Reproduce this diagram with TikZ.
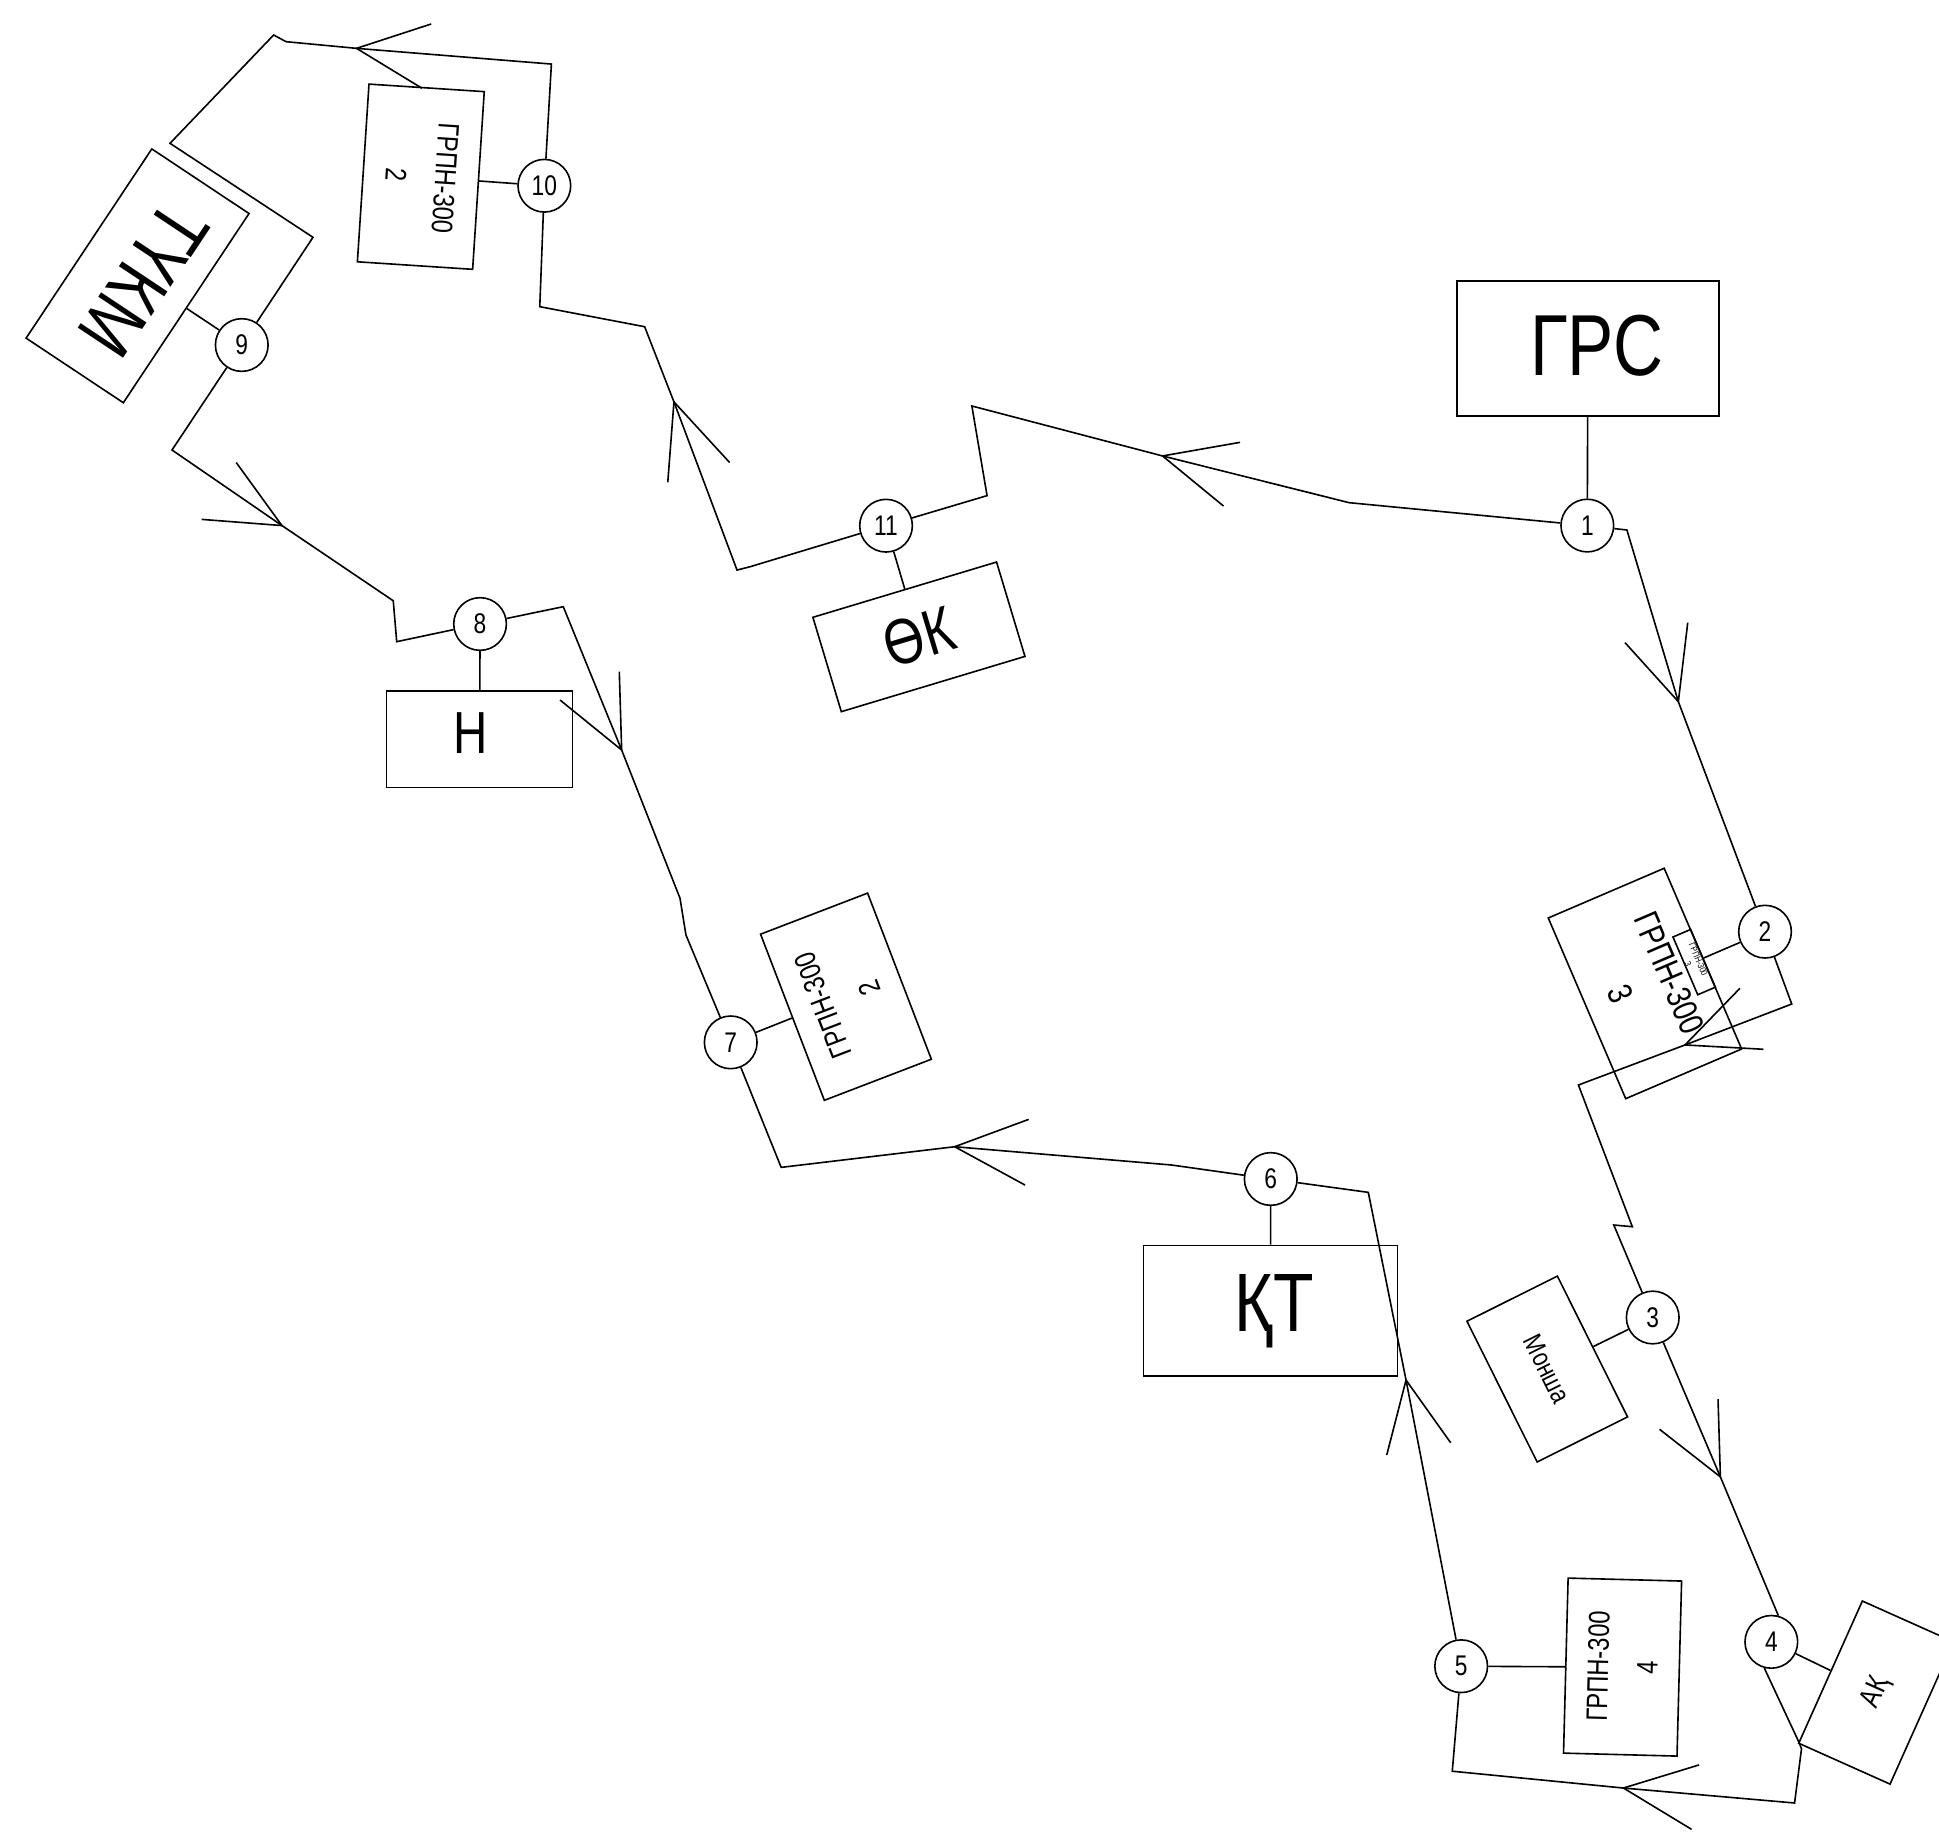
\documentclass[tikz,border=0pt]{standalone}
\usepackage{fontspec}
\setmainfont{Liberation Sans}[FakeStretch=0.8]
\begin{document}
\begin{tikzpicture}[x=1pt,y=-1pt,
  pipe/.style={line width=1.3pt},
  num/.style={circle,draw,line width=1.3pt,minimum size=42.6pt,inner sep=0pt,font=\fontsize{23}{23}\selectfont},
  box/.style={draw,line width=1.3pt,inner sep=0pt,align=center},
  grpn/.style={font=\fontsize{24}{40}\selectfont},
  bigtext/.style={inner sep=0pt,anchor=base}
]
\useasboundingbox (0,0) rectangle (1568,1486);
\clip (0,0) rectangle (1568,1486);

% junction circles
\node[num] (n1) at (1283.6,425) {1};
\node[num] (n2) at (1427.3,753.4) {2};
\node[num] (n3) at (1336.5,1065.4) {3};
\node[num] (n4) at (1432.4,1327.7) {4};
\node[num] (n5) at (1181.6,1347.4) {5};
\node[num] (n6) at (1027.6,953.4) {6};
\node[num] (n7) at (590.9,842.9) {7};
\node[num] (n8) at (388.2,504.6) {8};
\node[num] (n9) at (195.5,279) {9};
\node[num] (n10) at (440.2,150.2) {10};
\node[num] (n11) at (716.5,425.1) {11};

% consumer boxes
\node[box,minimum width=211.9pt,minimum height=109.2pt] (grs) at (1284,281.8) {};
\node[bigtext,font=\fontsize{70}{70}\selectfont] (grst) at (1291.3,303.3) {ГРС};

\node[box,minimum width=205.4pt,minimum height=105.7pt] (kt) at (1027.3,1059.9) {};
\node[bigtext,font=\fontsize{67}{67}\selectfont] (ktt) at (1030.4,1076.9) {ҚТ};

\node[box,minimum width=150.4pt,minimum height=77.9pt] (nbox) at (387.9,597.75) {};
\node[bigtext,font=\fontsize{48}{48}\selectfont] (nboxt) at (380.5,609.2) {Н};

\node[box,rotate=16.75,minimum width=155.1pt,minimum height=79.7pt,font=\fontsize{52}{52}\selectfont] (ok) at (743.1,515) {ӨК};

\node[box,rotate=-123.6,minimum width=183.7pt,minimum height=94.4pt] (tkm) at (111.25,223.05) {};
\node[inner sep=0pt,rotate=-123.6,font=\fontsize{64}{64}\selectfont] (tkmt) at (116,226) {ТҮКМ};

\node[box,grpn,rotate=-93.74,minimum width=144pt,minimum height=93.4pt] (gr10) at (340.3,142.9) {ГРПН-300\\2};
\node[box,grpn,rotate=111,minimum width=143.9pt,minimum height=92.7pt] (gr7) at (684.1,806) {ГРПН-300\\2};
\node[box,grpn,rotate=88.5,minimum width=141.6pt,minimum height=91.8pt] (gr4) at (1312.1,1348.1) {ГРПН-300\\4};
\node[box,rotate=-66.8,minimum width=159pt,minimum height=102pt,font=\fontsize{28}{43}\selectfont] (gr3) at (1330.2,795.3) {ГРПН-300\\3};
\node[box,rotate=-66.8,minimum width=50.8pt,minimum height=15.5pt] (srect) at (1370,778) {};
\node[inner sep=0pt,align=center,rotate=-66.8,font=\fontsize{7.5}{9}\selectfont] (srectt) at (1369.3,777.7) {ГРПН-300\\3};

\node[box,rotate=-63.5,minimum width=127.2pt,minimum height=81.7pt,font=\fontsize{22}{22}\selectfont] (monsha) at (1251.2,1107.1) {Монша};
\node[box,rotate=65.9,minimum width=126pt,minimum height=80.9pt,font=\fontsize{24}{24}\selectfont] (aq) at (1517.2,1368.7) {АҚ};

% bend points and arrow marks
\coordinate (a1) at (1315.6,428.6);
\coordinate (t1) at (1357.2,567.4); \coordinate (t1l) at (1314.1,519.7); \coordinate (t1r) at (1364.8,503.5);
\coordinate (b1) at (1448.9,811.9);
\coordinate (t2) at (1362.6,845); \coordinate (t2l) at (1407,799.2); \coordinate (t2r) at (1426,848.5);
\coordinate (b2) at (1276.4,877.4); \coordinate (b3) at (1320,992); \coordinate (b4) at (1305,990.6);
\coordinate (t3) at (1391.2,1194.3); \coordinate (t3l) at (1342,1155.8); \coordinate (t3r) at (1389.3,1131.5);
\coordinate (d1) at (1454.6,1408.6); \coordinate (d2) at (1456.8,1414.1); \coordinate (d3) at (1451.2,1458);
\coordinate (t4) at (1312.8,1445.9); \coordinate (t4l) at (1374,1427.2); \coordinate (t4r) at (1367.9,1479.3);
\coordinate (d4) at (1174.4,1432.3);
\coordinate (t5) at (1137,1116); \coordinate (t5l) at (1121.4,1176.6); \coordinate (t5r) at (1173.1,1166.7);
\coordinate (e1) at (1106.5,964.2);
\coordinate (f1) at (947.5,942.1);
\coordinate (t6) at (772,927.3); \coordinate (t6l) at (831.8,905.2); \coordinate (t6r) at (828.9,958.3);
\coordinate (f2) at (631.7,944);
\coordinate (g1) at (554.7,756.1); \coordinate (g2) at (549.9,726.4);
\coordinate (t7) at (502.7,606.5); \coordinate (t7l) at (452.9,566.1); \coordinate (t7r) at (500.8,543.2);
\coordinate (g3) at (455.5,490.6);
\coordinate (h1) at (320.8,518.9); \coordinate (h2) at (318,485.8);
\coordinate (t8) at (228,425); \coordinate (t8l) at (163,420); \coordinate (t8r) at (191,374);
\coordinate (h3) at (139.1,363.9);
\coordinate (i1) at (253.1,191.9); \coordinate (i2) at (137.5,115.9); \coordinate (i3) at (221.3,28.3); \coordinate (i4) at (231.3,33.7);
\coordinate (t9) at (288.3,39.1); \coordinate (t9l) at (348.7,19.4); \coordinate (t9r) at (341.3,71.4);
\coordinate (i5) at (445.9,51.8);
\coordinate (j1) at (436.5,248); \coordinate (j2) at (521.3,264.2);
\coordinate (t10) at (545,325); \coordinate (t10l) at (540,390); \coordinate (t10r) at (590,374);
\coordinate (j3) at (596,461); \coordinate (j4) at (606.5,458.3);
\coordinate (k1) at (798.2,400.8); \coordinate (k2) at (785.9,328.3);
\coordinate (t11) at (940.1,368.7); \coordinate (t11l) at (1002.8,357.7); \coordinate (t11r) at (989.4,409.2);
\coordinate (k3) at (1091,406.5);

% ring main
\draw[pipe] (n1) -- (a1) -- (t1) -- (n2);
\draw[pipe] (n2) -- (b1) -- (t2) -- (b2) -- (b3) -- (b4) -- (n3);
\draw[pipe] (n3) -- (t3) -- (n4.75);
\draw[pipe] (n4.-105) -- (d1) -- (d2) -- (d3) -- (t4) -- (d4) -- (n5);
\draw[pipe] (n5) -- (t5) -- (e1) -- (n6);
\draw[pipe] (n6) -- (f1) -- (t6) -- (f2) -- (n7);
\draw[pipe] (n7) -- (g1) -- (g2) -- (t7) -- (g3) -- (n8);
\draw[pipe] (n8) -- (h1) -- (h2) -- (t8) -- (h3) -- (n9);
\draw[pipe] (n9) -- (i1) -- (i2) -- (i3) -- (i4) -- (t9) -- (i5) -- (n10);
\draw[pipe] (n10) -- (j1) -- (j2) -- (t10) -- (j3) -- (j4) -- (n11);
\draw[pipe] (n11) -- (k1) -- (k2) -- (t11) -- (k3) -- (n1);

% flow arrows
\draw[pipe] (t1l) -- (t1) -- (t1r);
\draw[pipe] (t2l) -- (t2) -- (t2r);
\draw[pipe] (t3l) -- (t3) -- (t3r);
\draw[pipe] (t4l) -- (t4) -- (t4r);
\draw[pipe] (t5l) -- (t5) -- (t5r);
\draw[pipe] (t6l) -- (t6) -- (t6r);
\draw[pipe] (t7l) -- (t7) -- (t7r);
\draw[pipe] (t8l) -- (t8) -- (t8r);
\draw[pipe] (t9l) -- (t9) -- (t9r);
\draw[pipe] (t10l) -- (t10) -- (t10r);
\draw[pipe] (t11l) -- (t11) -- (t11r);

% branches to consumers
\draw[pipe] (n1) -- (grs);
\draw[pipe] (n2) -- (srect);
\draw[pipe] (n3) -- (monsha);
\draw[pipe] (n4) -- (aq);
\draw[pipe] (n5) -- (gr4);
\draw[pipe] (n6) -- (kt);
\draw[pipe] (n7) -- (gr7);
\draw[pipe] (n8) -- (nbox);
\draw[pipe] (n9) -- (tkm);
\draw[pipe] (n10) -- (gr10);
\draw[pipe] (n11) -- (ok);
\end{tikzpicture}
\end{document}
